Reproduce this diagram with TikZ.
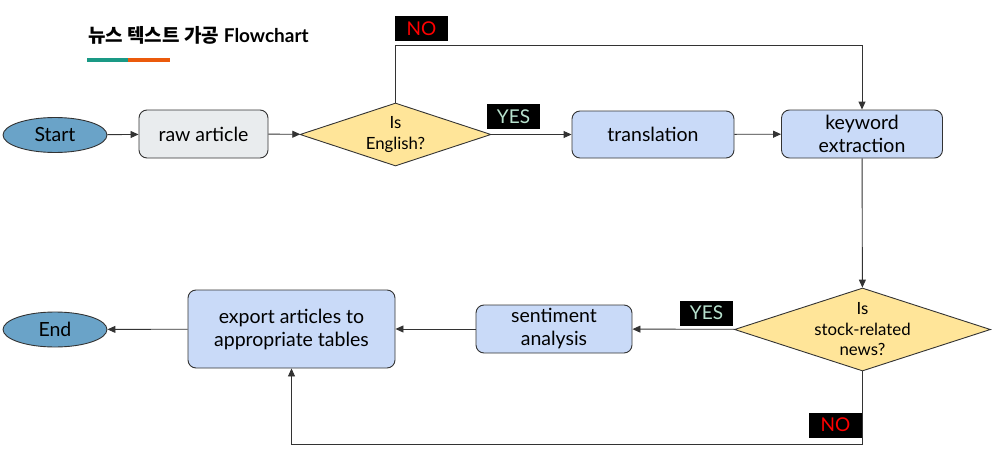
\documentclass[tikz,border=0pt]{standalone}
\usepackage{fontspec}
\setmainfont{Lato}
\newfontfamily\kr{Noto Sans CJK KR}
\usetikzlibrary{shapes.geometric,arrows.meta}
\definecolor{edgec}{HTML}{333333}
\definecolor{blueF}{HTML}{C9DAF8}
\definecolor{grayF}{HTML}{E9ECEE}
\definecolor{yelF}{HTML}{FFE599}
\definecolor{ellF}{HTML}{6AA3C8}
\definecolor{tealc}{HTML}{1A9985}
\definecolor{orangec}{HTML}{EB5A0C}
\definecolor{yesc}{HTML}{B7E1CD}
\tikzset{
  boxn/.style={draw=edgec, line width=0.9pt, rounded corners=8pt, align=center, font=\fontsize{19.5}{23}\selectfont, inner sep=0pt},
  ellN/.style={ellipse, draw=edgec, line width=0.9pt, fill=ellF, minimum width=104pt, minimum height=35pt, inner sep=0pt, font=\fontsize{19.5}{23}\selectfont},
  decN/.style={diamond, draw=edgec, line width=0.9pt, fill=yelF, inner sep=0pt},
  dtext/.style={align=center, font=\fontsize{16.8}{20.5}\selectfont, inner sep=0pt},
  tagN/.style={fill=black, minimum width=53pt, minimum height=25pt, inner sep=0pt, font=\fontsize{19}{20}\selectfont},
  conn/.style={draw=edgec, line width=0.9pt, -{Triangle[length=8pt,width=7pt]}},
}
\begin{document}
\begin{tikzpicture}[x=1pt,y=-1pt]
\useasboundingbox (0,0) rectangle (1004,452);
% title
\node[anchor=west, inner sep=0pt, font=\fontsize{19}{22}\selectfont\bfseries] (title) at (88,35) {{\kr\bfseries 뉴스 텍스트 가공} Flowchart};
\fill[tealc] (87,58) rectangle (128,62);
\fill[orangec] (128,58) rectangle (170,62);
% nodes
\node[ellN] (start) at (55,135) {Start};
\node[boxn, fill=grayF, minimum width=129pt, minimum height=48pt] (raw) at (203.5,134) {raw article};
\node[decN, minimum width=191pt, minimum height=63pt] (d1) at (395.5,134.5) {};
\node[dtext] (d1t) at (d1) {Is\\English?};
\node[boxn, fill=blueF, minimum width=162pt, minimum height=47pt] (trans) at (653,134.5) {translation};
\node[boxn, fill=blueF, minimum width=161pt, minimum height=48pt] (kw) at (862,134) {keyword\\extraction};
\node[decN, minimum width=256pt, minimum height=83pt] (d2) at (862.5,329.5) {};
\node[dtext] (d2t) at (d2) {Is\\stock-related\\news?};
\node[boxn, fill=blueF, minimum width=156pt, minimum height=48pt] (sent) at (554,329) {sentiment\\analysis};
\node[boxn, fill=blueF, minimum width=207pt, minimum height=78pt] (exp) at (291.5,329) {export articles to\\appropriate tables};
\node[ellN] (end) at (55,329.5) {End};
% coordinates
\coordinate (c1) at (395.5,45);
\coordinate (c2) at (862.5,444);
% connectors
\draw[conn] (start) -- (raw);
\draw[conn] (raw) -- (d1);
\draw[conn] (d1) -- (trans);
\draw[conn] (trans) -- (kw);
\draw[conn] (d1.north) -- (c1) -| (kw.north);
\draw[conn] (kw) -- (d2);
\draw[conn] (d2) -- (sent);
\draw[conn] (sent) -- (exp);
\draw[conn] (exp) -- (end);
\draw[conn] (d2.south) -- (c2) -| (exp.south);
% tags
\node[tagN, text=red] (no1) at (421.5,28.5) {NO};
\node[tagN, text=yesc] (yes1) at (513.5,116.5) {YES};
\node[tagN, text=yesc] (yes2) at (706.5,313) {YES};
\node[tagN, text=red] (no2) at (835.5,425) {NO};
\end{tikzpicture}
\end{document}
